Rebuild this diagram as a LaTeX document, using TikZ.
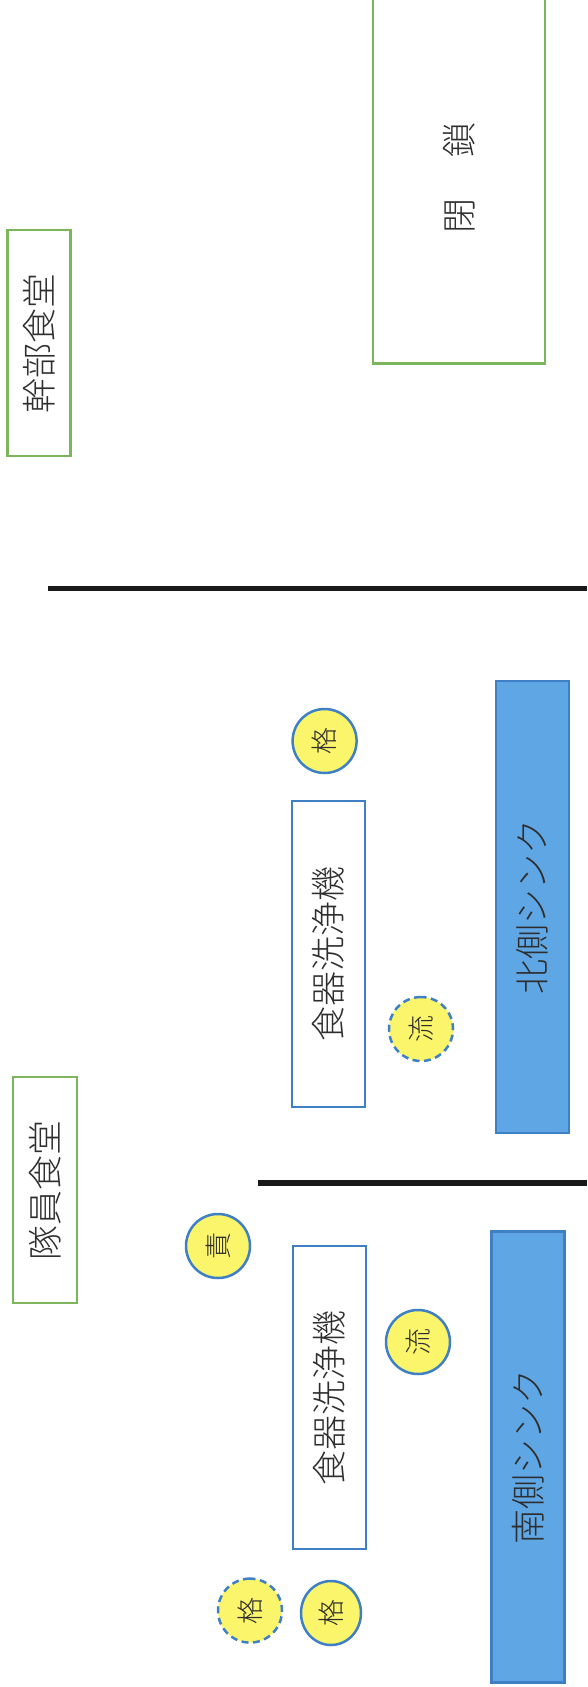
\documentclass[tikz,border=0pt]{standalone}
\usepackage{fontspec}
\setmainfont{Noto Sans CJK JP Light}
\definecolor{grn}{HTML}{7DB55C}
\definecolor{blu}{HTML}{3F80C4}
\definecolor{snk}{HTML}{5FA6E4}
\definecolor{yel}{HTML}{FBF56C}
\definecolor{ink}{HTML}{2E2E2E}
\tikzset{
  every node/.style={inner sep=0pt,outer sep=0pt,text=ink,rotate=90,font=\fontsize{35}{35}\selectfont},
  greenbox/.style={draw=grn,fill=white,line width=2.2pt,rectangle},
  washer/.style={draw=blu,fill=white,line width=2.2pt,rectangle},
  sink/.style={draw=blu,fill=snk,line width=2.2pt,rectangle},
  mark circ/.style={draw=blu,fill=yel,line width=2.5pt,ellipse,font=\fontsize{27}{27}\selectfont},
  dash circ/.style={mark circ,dash pattern=on 7pt off 4.5pt},
  wall/.style={draw=black!90,line width=5.5pt}
}
\usetikzlibrary{shapes.geometric}
\begin{document}
\begin{tikzpicture}[x=1pt,y=-1pt]
\useasboundingbox (0,0) rectangle (587,1687);
\node[greenbox,minimum width=226pt,minimum height=63pt] (kanbu) at (39,343) {幹部食堂};
\node[greenbox,minimum width=366pt,minimum height=172pt] (heisa) at (459,180.5) {\hspace{6pt}閉\hspace{41pt}鎖};
\node[greenbox,minimum width=226pt,minimum height=64pt] (taiin) at (45,1190) {隊員食堂};
\node[washer,minimum width=306pt,minimum height=73pt] (washn) at (328.5,954) {食器洗浄機};
\node[washer,minimum width=303pt,minimum height=73pt] (washs) at (329.5,1397.5) {食器洗浄機};
\node[sink,minimum width=452pt,minimum height=73pt] (sinkn) at (532.5,907) {北側シンク};
\node[sink,minimum width=451pt,minimum height=73pt] (sinks) at (528,1457) {南側シンク};
\node[mark circ,minimum width=64pt,minimum height=64pt] (kakun) at (324.6,741) {格};
\node[dash circ,minimum width=64pt,minimum height=64pt] (ryun) at (421,1029) {流};
\node[mark circ,minimum width=64pt,minimum height=64pt] (seki) at (218,1246) {責};
\node[mark circ,minimum width=64pt,minimum height=64pt] (ryus) at (418,1342) {流};
\node[dash circ,minimum width=64pt,minimum height=64pt] (kakud) at (250,1610.6) {格};
\node[mark circ,minimum width=64pt,minimum height=60pt] (kakus) at (331,1613) {格};
\coordinate (w1a) at (48,588.6);
\coordinate (w1b) at (587,588.6);
\coordinate (w2a) at (258,1183);
\coordinate (w2b) at (587,1183);
\draw[wall] (w1a) -- (w1b);
\draw[wall] (w2a) -- (w2b);
\end{tikzpicture}
\end{document}
